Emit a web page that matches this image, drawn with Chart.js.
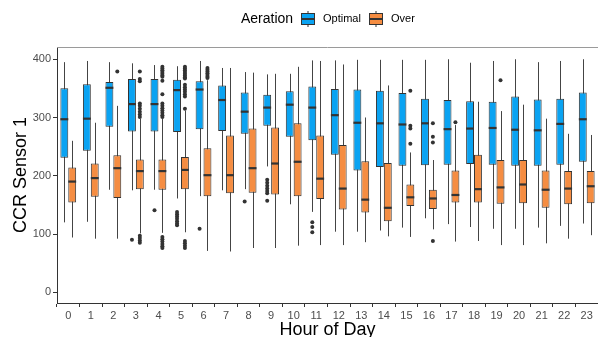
<!DOCTYPE html>
<html>
<head>
<meta charset="utf-8">
<script src="https://cdn.jsdelivr.net/npm/chart.js@4.4.0/dist/chart.umd.min.js"></script>
<style>
  html, body { margin: 0; padding: 0; background: #fff; overflow: hidden; }
  #wrap { width: 598px; height: 337px; }
</style>
</head>
<body>
<div id="wrap"><canvas id="myChart" width="598" height="337"></canvas></div>
<script>
'use strict';
let hours = ['0', '1', '2', '3', '4', '5', '6', '7', '8', '9', '10', '11',
  '12', '13', '14', '15', '16', '17', '18', '19', '20', '21', '22', '23'];
let yTicks = [0, 100, 200, 300, 400];

// Aeration = Optimal
let optLow = [120, 121, 176, 175, 176, 161, 165, 175, 177, 216, 151, 138, 104, 104, 106, 111, 127, 117, 112, 109, 109, 111, 114, 118];
let optQ1 = [231, 243, 284, 276, 276, 275, 280, 277, 272, 286, 267, 261, 236, 209, 215, 217, 218, 219, 220, 219, 217, 217, 219, 224];
let optMed = [297, 298, 351, 323, 323, 347, 348, 330, 310, 317, 322, 317, 304, 291, 290, 288, 290, 280, 281, 282, 279, 278, 289, 297];
let optQ3 = [350, 357, 361, 366, 366, 365, 362, 355, 343, 339, 345, 353, 349, 348, 346, 342, 332, 330, 328, 327, 336, 331, 332, 343];
let optHigh = [395, 397, 395, 393, 390, 388, 397, 385, 378, 374, 375, 398, 398, 399, 399, 399, 399, 400, 394, 397, 400, 395, 397, 400];
let optOut = [[], [], [], [90], [141], [138, 134, 130, 126, 122, 118, 115], [109], [], [156],
  [193, 188, 183, 178, 174, 170, 157], [], [120, 112, 103], [], [], [], [], [], [], [], [], [], [], [], []];

// Aeration = Over
let overLow = [94, 92, 92, 101, 102, 103, 71, 70, 76, 76, 80, 81, 81, 86, 96, 95, 108, 87, 88, 81, 81, 84, 92, 98];
let overQ1 = [154, 164, 162, 177, 176, 177, 165, 170, 171, 168, 165, 160, 142, 137, 122, 148, 143, 154, 154, 152, 153, 145, 151, 153];
let overMed = [190, 196, 213, 208, 208, 210, 201, 201, 213, 221, 224, 195, 178, 159, 145, 163, 161, 167, 177, 180, 185, 176, 178, 182];
let overQ3 = [214, 221, 235, 228, 228, 232, 247, 269, 281, 283, 290, 269, 253, 225, 222, 185, 176, 209, 236, 227, 227, 209, 208, 208];
let overHigh = [260, 291, 320, 298, 298, 312, 364, 385, 377, 375, 387, 397, 391, 300, 355, 240, 227, 287, 327, 311, 322, 298, 272, 270];
let overOut = [[], [], [379],
  [379, 366, 362, 324, 320, 315, 310, 305, 301, 97, 93, 89, 85],
  [387, 384, 381, 378, 375, 372, 370, 363, 340, 324, 320, 316, 312, 308, 304, 301, 95, 91, 87, 83, 79, 76],
  [387, 384, 381, 378, 375, 372, 369, 367, 356, 352, 348, 344, 340, 336, 315, 88, 84, 80, 76],
  [385, 382, 379, 376, 373, 370, 368], [], [], [], [], [], [], [], [],
  [346, 286, 281, 255], [290, 267, 257, 88], [292], [], [364], [], [], [], []];

let blue = '#0AA3F2';
let orange = '#F58D42';
let dark = '#333333';
let font = '"Liberation Sans", Arial, sans-serif';

let stats = [
  { low: optLow, med: optMed, high: optHigh, out: optOut },
  { low: overLow, med: overMed, high: overHigh, out: overOut }
];

function boxes(q1, q3) {
  let arr = [];
  for (let i = 0; i < q1.length; i++) {
    arr.push([q1[i], q3[i]]);
  }
  return arr;
}

// whiskers under the boxes, medians + outliers on top
let boxPlugin = {
  id: 'boxPlugin',
  beforeDatasetsDraw(chart) {
    let ctx = chart.ctx;
    let y = chart.scales.y;
    ctx.save();
    ctx.strokeStyle = '#444';
    ctx.lineWidth = 1;
    for (let d = 0; d < stats.length; d++) {
      let meta = chart.getDatasetMeta(d);
      let s = stats[d];
      meta.data.forEach(function (bar, i) {
        let x = Math.round(bar.x) + 0.5;
        ctx.beginPath();
        ctx.moveTo(x, y.getPixelForValue(s.high[i]));
        ctx.lineTo(x, y.getPixelForValue(s.low[i]));
        ctx.stroke();
      });
    }
    ctx.restore();
  },
  afterDatasetsDraw(chart) {
    let ctx = chart.ctx;
    let y = chart.scales.y;
    ctx.save();
    for (let d = 0; d < stats.length; d++) {
      let meta = chart.getDatasetMeta(d);
      let s = stats[d];
      meta.data.forEach(function (bar, i) {
        let half = bar.width / 2;
        let ym = y.getPixelForValue(s.med[i]);
        ctx.strokeStyle = dark;
        ctx.lineWidth = 2.2;
        ctx.beginPath();
        ctx.moveTo(bar.x - half, ym);
        ctx.lineTo(bar.x + half, ym);
        ctx.stroke();
        ctx.fillStyle = dark;
        s.out[i].forEach(function (v) {
          ctx.beginPath();
          ctx.arc(bar.x, y.getPixelForValue(v), 2, 0, Math.PI * 2);
          ctx.fill();
        });
      });
    }
    ctx.restore();
  },
  afterDraw(chart) {
    let ctx = chart.ctx;
    let area = chart.chartArea;
    ctx.save();
    // top panel line
    ctx.strokeStyle = '#9a9a9a';
    ctx.lineWidth = 1;
    ctx.beginPath();
    ctx.moveTo(area.left, area.top + 0.5);
    ctx.lineTo(area.right, area.top + 0.5);
    ctx.stroke();

    // legend
    ctx.fillStyle = '#000';
    ctx.textBaseline = 'middle';
    ctx.font = '14px ' + font;
    ctx.fillText('Aeration', 241, 19);
    let keys = [[300, blue, 'Optimal'], [368, orange, 'Over']];
    keys.forEach(function (k) {
      let kx = k[0];
      ctx.strokeStyle = dark;
      ctx.lineWidth = 1;
      ctx.beginPath();
      ctx.moveTo(kx + 8, 11);
      ctx.lineTo(kx + 8, 27);
      ctx.stroke();
      ctx.fillStyle = k[1];
      ctx.fillRect(kx + 1.5, 13.5, 13, 11);
      ctx.strokeRect(kx + 1.5, 13.5, 13, 11);
      ctx.lineWidth = 2;
      ctx.beginPath();
      ctx.moveTo(kx + 1.5, 19);
      ctx.lineTo(kx + 14.5, 19);
      ctx.stroke();
      ctx.fillStyle = '#000';
      ctx.font = '11px ' + font;
      ctx.fillText(k[2], kx + 23, 19);
    });
    ctx.restore();
  }
};

let ctx = document.getElementById('myChart').getContext('2d');
let myChart = new Chart(ctx, {
  type: 'bar',
  data: {
    labels: hours,
    datasets: [{
      label: 'Optimal',
      data: boxes(optQ1, optQ3),
      backgroundColor: blue,
      borderColor: dark,
      borderWidth: 1,
      borderSkipped: false
    },
    {
      label: 'Over',
      data: boxes(overQ1, overQ3),
      backgroundColor: orange,
      borderColor: dark,
      borderWidth: 1,
      borderSkipped: false
    }]
  },
  options: {
    responsive: false,
    animation: false,
    categoryPercentage: 0.7,
    barPercentage: 1,
    layout: { padding: { top: 47, left: 0, right: 0, bottom: 0 } },
    plugins: {
      legend: { display: false },
      tooltip: { enabled: false }
    },
    scales: {
      x: {
        offset: true,
        grid: { display: true, drawOnChartArea: false, drawTicks: true, tickLength: 4, tickColor: dark },
        border: { display: true, color: dark, width: 1 },
        ticks: { color: '#4D4D4D', font: { size: 11, family: font }, padding: 2, maxRotation: 0, autoSkip: false },
        title: { display: true, text: 'Hour of Day', color: '#000', font: { size: 18, family: font, lineHeight: 0.75 }, padding: { top: 0, bottom: 0 } },
        afterFit(scale) { scale.height = 34; }
      },
      y: {
        min: -18.4,
        max: 421,
        afterBuildTicks(axis) {
          axis.ticks = yTicks.map(v => ({ value: v }));
        },
        grid: { display: true, drawOnChartArea: false, drawTicks: true, tickLength: 4, tickColor: dark },
        border: { display: true, color: dark, width: 1 },
        ticks: { color: '#4D4D4D', font: { size: 11, family: font }, padding: 2 },
        title: { display: true, text: 'CCR Sensor 1', color: '#000', font: { size: 18, family: font, lineHeight: 1.2 }, padding: { top: 10, bottom: 0 } },
        afterFit(scale) { scale.width = 57; }
      }
    }
  },
  plugins: [boxPlugin]
});
</script>
</body>
</html>
